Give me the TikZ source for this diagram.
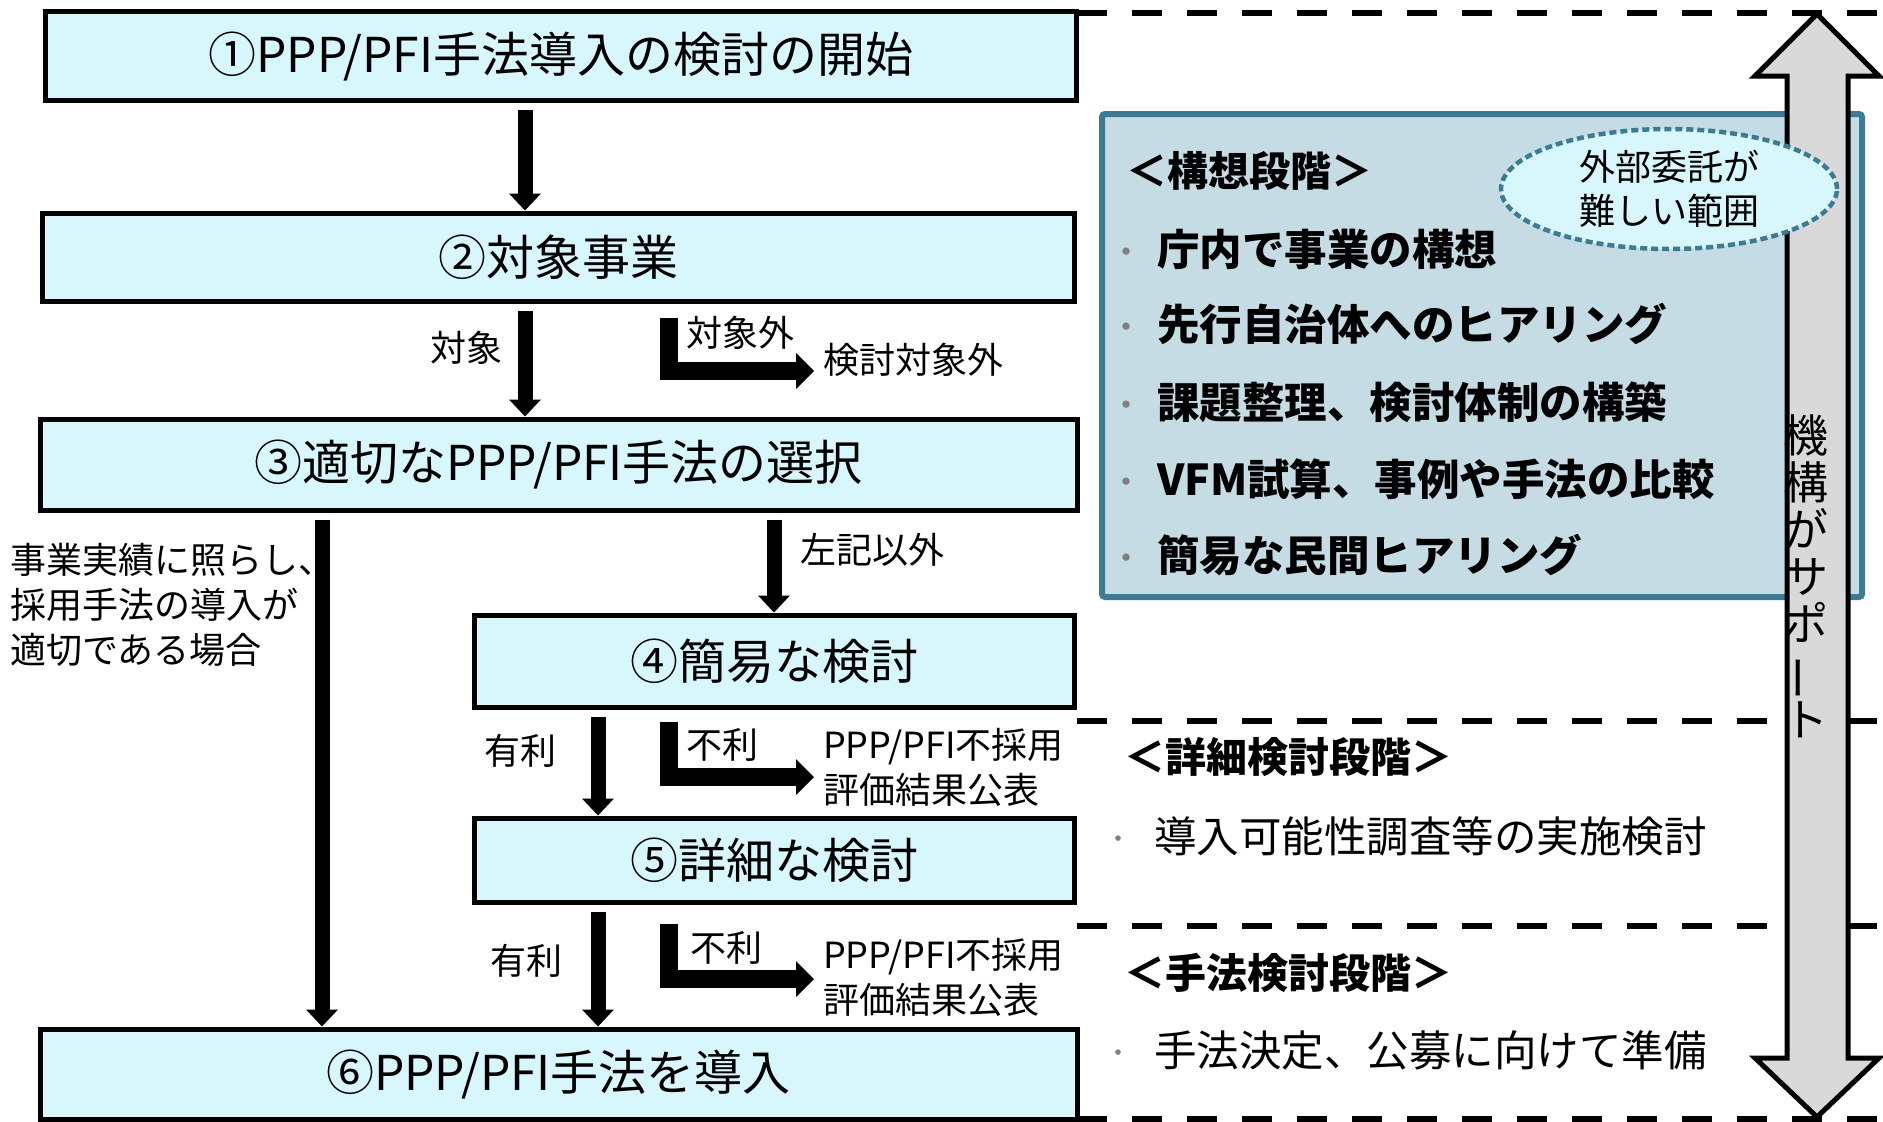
\documentclass[tikz,border=0pt]{standalone}
\usepackage{fontspec}
\usepackage{graphicx}
\usepackage{xcolor}
\usepackage{tikz}
\usetikzlibrary{arrows.meta}
\usetikzlibrary{shapes.geometric}
\setmainfont{Noto Sans CJK JP}

\definecolor{boxcyan}{HTML}{D7F7FC}
\definecolor{panelfill}{HTML}{C5DCE5}
\definecolor{paneledge}{HTML}{3D7B95}
\definecolor{shaftgray}{HTML}{D9D9D9}
\definecolor{dotgray}{HTML}{808080}

\newcommand{\dotmark}{\textcolor{dotgray}{\raisebox{4pt}{\fontsize{26}{26}\selectfont ・}}}

\tikzset{
  stepbox/.style={draw,line width=5pt,fill=boxcyan,inner sep=0pt,font=\fontsize{48}{56}\selectfont},
  flowarrow/.style={line width=15pt,-{Triangle[width=32pt,length=17pt,line width=0pt]},shorten <=7pt},
  bentarrow/.style={line width=18pt,-{Triangle[width=36pt,length=18pt,line width=0pt]}},
  lbl/.style={inner sep=0pt,font=\fontsize{36}{45}\selectfont},
  phaseline/.style={line width=6pt,dash pattern=on 30pt off 25pt},
  phasehead/.style={inner sep=0pt,anchor=west,font=\fontsize{41}{48}\selectfont\bfseries},
  phaseitem/.style={inner sep=0pt,anchor=west,font=\fontsize{42.5}{48}\selectfont},
}

\begin{document}
\begin{tikzpicture}[x=1pt,y=-1pt]
        \useasboundingbox (0,0) rectangle (1883,1122);
        \draw[phaseline] (1077,13) coordinate (d1) -- (1883,13);
        \draw[phaseline] (1077,721) coordinate (d2) -- (1883,721);
        \draw[phaseline] (1077,926) coordinate (d3) -- (1883,926);
        \draw[phaseline] (1077,1119) coordinate (d4) -- (1883,1119);

        \node[stepbox,minimum width=1031,minimum height=89] (s1) at (561,56) {①PPP/PFI手法導入の検討の開始};
        \node[stepbox,minimum width=1032,minimum height=88] (s2) at (558,257) {②対象事業};
        \node[stepbox,minimum width=1037,minimum height=91] (s3) at (558.5,464.5) {③適切なPPP/PFI手法の選択};
        \node[stepbox,minimum width=600,minimum height=92] (s4) at (774,661) {④簡易な検討};
        \node[stepbox,minimum width=600,minimum height=84] (s5) at (774,860) {⑤詳細な検討};
        \node[stepbox,minimum width=1037,minimum height=90] (s6) at (558.5,1074) {⑥PPP/PFI手法を導入};

        \coordinate (xa) at (525,0);
        \coordinate (xb) at (598,0);
        \coordinate (xc) at (322,0);
        \coordinate (xd) at (669,0);
        \coordinate (o1) at (814,371);
        \coordinate (o2) at (814,777);
        \coordinate (o3) at (814,979);

        \draw[flowarrow] (s1.south -| xa) -- (s2.north -| xa);
        \draw[flowarrow] (s2.south -| xa) -- (s3.north -| xa);
        \draw[flowarrow] (s3.south -| xc) -- (s6.north -| xc);
        \draw[flowarrow] (s3.south -| s4) -- (s4.north);
        \draw[flowarrow] (s4.south -| xb) -- (s5.north -| xb);
        \draw[flowarrow] (s5.south -| xb) -- (s6.north -| xb);
        \draw[bentarrow,shorten <=14pt] (s2.south -| xd) |- (o1);
        \draw[bentarrow,shorten <=12pt] (s4.south -| xd) |- (o2);
        \draw[bentarrow,shorten <=19pt] (s5.south -| xd) |- (o3);

        \node[lbl] (t1) at (466,348) {対象};
        \node[lbl] (t2) at (740,333) {対象外};
        \node[lbl] (t3) at (913,360) {検討対象外};
        \node[lbl] (t4) at (872,550) {左記以外};
        \node[lbl,align=left,anchor=west] (t5) at (10,605) {事業実績に照らし、\\採用手法の導入が\\適切である場合};
        \node[lbl] (t6) at (520,751) {有利};
        \node[lbl] (t7) at (722,745) {不利};
        \node[lbl,align=left,anchor=west] (t8) at (823,767) {PPP/PFI不採用\\評価結果公表};
        \node[lbl] (t9) at (526,961) {有利};
        \node[lbl] (t10) at (726,948) {不利};
        \node[lbl,align=left,anchor=west] (t11) at (823,977) {PPP/PFI不採用\\評価結果公表};

        \node[draw=paneledge,fill=panelfill,line width=6pt,rounded corners=3pt,minimum width=760,minimum height=483] (plan) at (1482,355.5) {};
        \node[phasehead] (h1) at (1126,171) {＜構想段階＞};
        \node[phaseitem,font=\fontsize{42.5}{48}\selectfont\bfseries] (i1) at (1113,249) {\dotmark\hspace{18pt}庁内で事業の構想};
        \node[phaseitem,font=\fontsize{42.5}{48}\selectfont\bfseries] (i2) at (1113,324) {\dotmark\hspace{18pt}先行自治体へのヒアリング};
        \node[phaseitem,font=\fontsize{42.5}{48}\selectfont\bfseries] (i3) at (1113,402) {\dotmark\hspace{18pt}課題整理、検討体制の構築};
        \node[phaseitem,font=\fontsize{42.5}{48}\selectfont\bfseries] (i4) at (1113,479) {\dotmark\hspace{18pt}VFM試算、事例や手法の比較};
        \node[phaseitem,font=\fontsize{42.5}{48}\selectfont\bfseries] (i5) at (1113,555) {\dotmark\hspace{18pt}簡易な民間ヒアリング};
        \node[phasehead] (h2) at (1124,757) {＜詳細検討段階＞};
        \node[phaseitem] (i6) at (1105,836) {\dotmark\hspace{23pt}導入可能性調査等の実施検討};
        \node[phasehead] (h3) at (1124,973) {＜手法検討段階＞};
        \node[phaseitem] (i7) at (1105,1050) {\dotmark\hspace{23pt}手法決定、公募に向けて準備};

        \draw[line width=5pt,fill=shaftgray] (1817,14) -- (1879,76) -- (1848,76) -- (1848,1058) -- (1879,1058) -- (1817,1117)
            -- (1755,1058) -- (1787,1058) -- (1787,76) -- (1755,76) -- cycle;
        \node[ellipse,draw=paneledge,fill=boxcyan,line width=4.5pt,dash pattern=on 7pt off 4pt,minimum width=336,minimum height=120,
            inner sep=0pt,align=center,font=\fontsize{36}{44}\selectfont] (ext) at (1669,189) {外部委託が\\難しい範囲};
        \node[inner sep=0pt,align=center,font=\fontsize{45}{47}\selectfont] (sup) at (1806,576)
            {機\\構\\が\\サ\\ポ\\\rotatebox[origin=c]{90}{ー}\\ト};
    \end{tikzpicture}
\end{document}
